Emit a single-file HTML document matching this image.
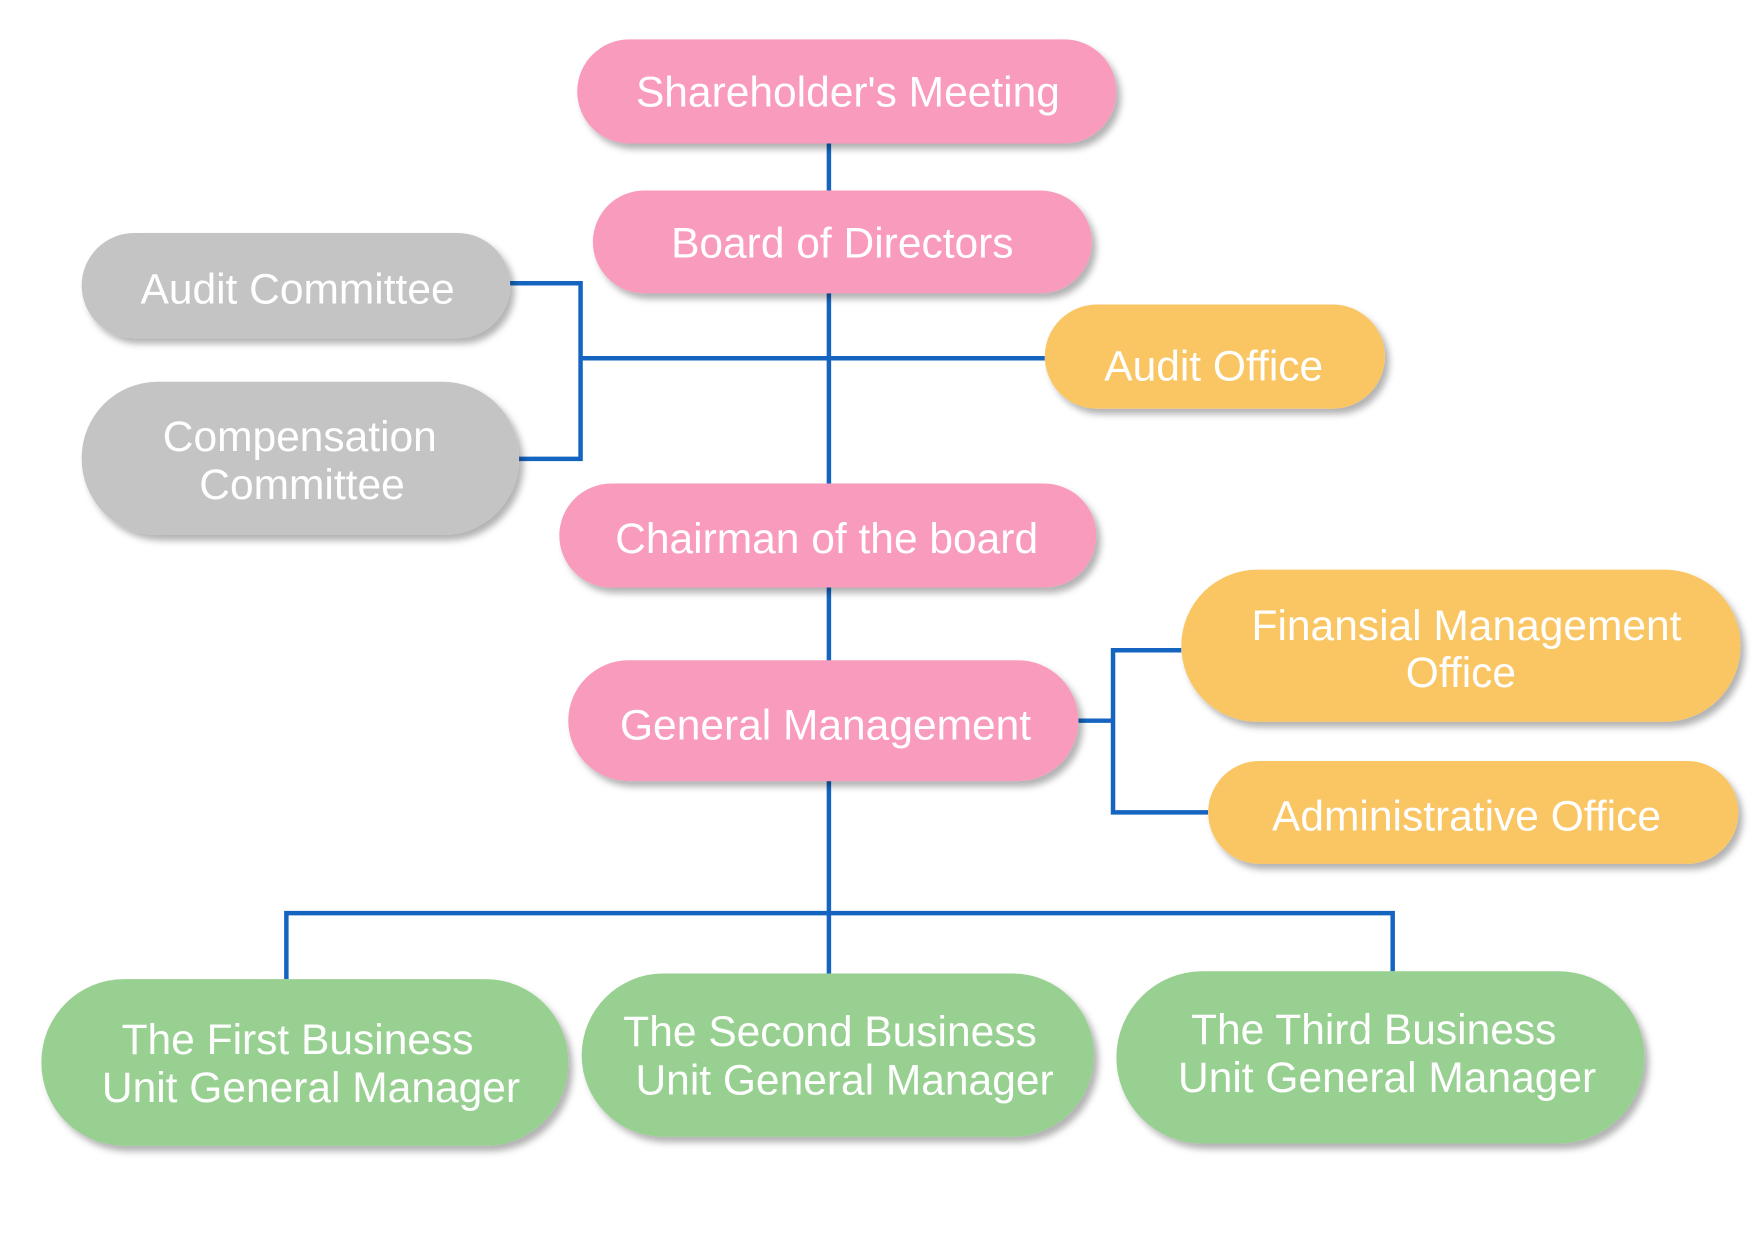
<!DOCTYPE html>
<html><head><meta charset="utf-8"><style>
html,body{margin:0;padding:0;background:#fff;}
svg{display:block;}
text{font-family:"Liberation Sans","DejaVu Sans",sans-serif;fill:#fff;font-size:38px;text-anchor:middle;}
</style></head><body>
<svg width="1754" height="1240" viewBox="0 0 1568 1108" xmlns="http://www.w3.org/2000/svg">
<defs>
<filter id="sh" x="-10%" y="-10%" width="130%" height="140%">
<feDropShadow dx="4" dy="5" stdDeviation="3" flood-color="#000" flood-opacity="0.3"/>
</filter>
</defs>
<g stroke="#1565c0" stroke-width="4" fill="none">
<line x1="741" y1="128" x2="741" y2="870"/>
<line x1="519" y1="320" x2="934" y2="320"/>
<polyline points="456,253 519,253 519,410 464,410"/>
<line x1="964" y1="644" x2="995" y2="644"/>
<polyline points="1056,581 995,581 995,726 1080,726"/>
<polyline points="256,875 256,816 1245,816 1245,868"/>
</g>
<g filter="url(#sh)">
<rect x="516" y="35" width="482" height="93" rx="46.5" fill="#f99bbd"/>
<rect x="530" y="170" width="446" height="92" rx="46" fill="#f99bbd"/>
<rect x="73" y="208" width="383" height="94" rx="47" fill="#c4c4c4"/>
<rect x="73" y="341" width="391" height="137" rx="68" fill="#c4c4c4"/>
<rect x="934" y="272" width="304" height="93" rx="46.5" fill="#fac564"/>
<rect x="500" y="432" width="480" height="93" rx="46.5" fill="#f99bbd"/>
<rect x="508" y="590" width="456" height="108" rx="54" fill="#f99bbd"/>
<rect x="1056" y="509" width="500" height="136" rx="68" fill="#fac564"/>
<rect x="1080" y="680" width="474" height="92" rx="46" fill="#fac564"/>
<rect x="37" y="875" width="471" height="149" rx="74" fill="#97d090"/>
<rect x="520" y="870" width="458" height="146" rx="73" fill="#97d090"/>
<rect x="998" y="868" width="472" height="154" rx="77" fill="#97d090"/>
</g>
<text x="758" y="95">Shareholder's Meeting</text>
<text x="753" y="230">Board of Directors</text>
<text x="266" y="271">Audit Committee</text>
<text x="268" y="403">Compensation</text>
<text x="270" y="446">Committee</text>
<text x="1085" y="340">Audit Office</text>
<text x="739" y="494">Chairman of the board</text>
<text x="738" y="661">General Management</text>
<text x="1311" y="572">Finansial  Management</text>
<text x="1306" y="614">Office</text>
<text x="1311" y="742">Administrative Office</text>
<text x="266" y="942">The First Business</text>
<text x="278" y="985">Unit General Manager</text>
<text x="742" y="935">The Second Business</text>
<text x="755" y="978">Unit General Manager</text>
<text x="1228" y="933">The Third Business</text>
<text x="1240" y="976">Unit General Manager</text>
</svg>
</body></html>
